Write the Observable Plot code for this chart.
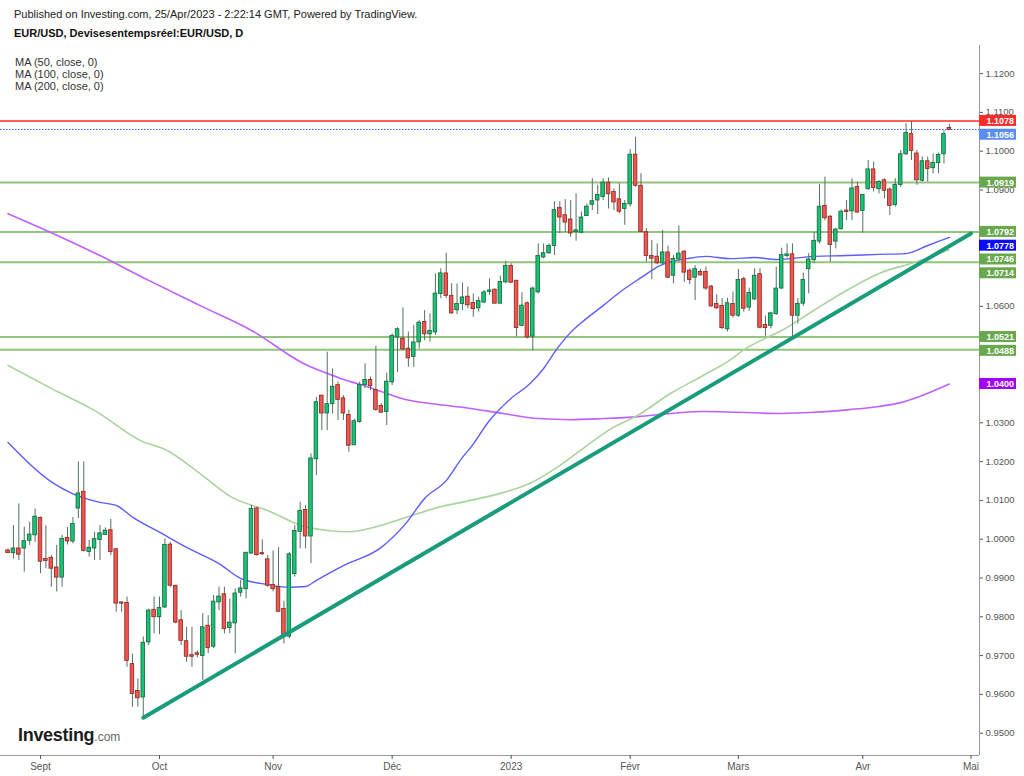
<!DOCTYPE html>
<html>
<head>
<meta charset="utf-8">
<script src="https://cdn.jsdelivr.net/npm/d3@7"></script>
<script src="https://cdn.jsdelivr.net/npm/@observablehq/plot@0.6"></script>
<style>
  body { margin: 0; background: #fff; font-family: "Liberation Sans", Arial, sans-serif; }
  #wrap { position: relative; width: 1024px; height: 776px; overflow: hidden; background: #fff; }
  #h1 { position: absolute; left: 14px; top: 8px; font-size: 11px; line-height: 13px; color: #222; white-space: nowrap; }
  #h2 { position: absolute; left: 14px; top: 27px; font-size: 11px; line-height: 13px; font-weight: bold; color: #111; white-space: nowrap; }
  #chart { position: absolute; left: 0; top: 45px; }
  #legend { position: absolute; left: 15px; top: 56px; font-size: 11px; line-height: 12px; color: #333; white-space: nowrap; }
  #logo { position: absolute; left: 18px; top: 726px; line-height: 18px; white-space: nowrap; }
  #logo .a { font-size: 18px; font-weight: bold; color: #1d1d1d; letter-spacing: -0.3px; }
  #logo .b { font-size: 12px; color: #666; }
</style>
</head>
<body>
<div id="wrap">
  <div id="chart"></div>
  <div id="h1">Published on Investing.com, 25/Apr/2023 - 2:22:14 GMT, Powered by TradingView.</div>
  <div id="h2">EUR/USD, Devisesentempsréel:EUR/USD, D</div>
  <div id="legend"></div>
  <div id="logo"><span class="a">Investing</span><span class="b">.com</span></div>
</div>
<script>
// ---------- DATA (daily bars; bar index 0 = 1 Sept 2022, first bar = 24 Aug 2022) ----------
const firstBar = -6;
const opens = [
  .9970,.9965,.9975,.9977,.9997,1.0011,
  1.0054,.9948,.9951,.9926,.9902,1.0002,.9995,1.0080,1.0121,.9968,
  .9977,.9999,1.0012,1.0022,.9973,.9836,.9835,.9677,.9608,.9593,
  .9735,.9817,.9800,.9825,.9985,.9879,.9790,.9736,.9700,.9705,
  .9700,.9776,.9724,.9838,.9857,.9772,.9784,.9863,.9872,.9964,
  1.0078,.9963,.9947,.9881,.9876,.9819,.9750,.9911,1.0020,1.0074,
  1.0008,1.0207,1.0369,1.0325,1.0349,1.0396,1.0362,1.0319,1.0243,1.0303,
  1.0398,1.0409,1.0383,1.0342,1.0329,1.0405,1.0521,1.0516,1.0490,1.0471,
  1.0508,1.0559,1.0529,1.0534,1.0633,1.0684,1.0626,1.0591,1.0607,1.0624,
  1.0608,1.0596,1.0611,1.0638,1.0642,1.0608,1.0663,1.0703,1.0665,1.0551,
  1.0607,1.0523,1.0637,1.0727,1.0738,1.0757,1.0853,1.0834,1.0823,1.0793,
  1.0791,1.0834,1.0863,1.0874,1.0883,1.0918,1.0894,1.0875,1.0852,1.0864,
  1.0990,1.0910,1.0790,1.0729,1.0727,1.0712,1.0738,1.0680,1.0722,1.0740,
  1.0691,1.0675,1.0688,1.0688,1.0650,1.0605,1.0600,1.0542,1.0605,1.0577,
  1.0669,1.0598,1.0619,1.0682,1.0551,1.0551,1.0581,1.0647,1.0731,1.0733,
  1.0577,1.0608,1.0697,1.0720,1.0768,1.0858,1.0830,1.0768,1.0800,1.0846,
  1.0846,1.0907,1.0847,1.0903,1.0952,1.0903,1.0924,1.0900,1.0862,1.0914,
  1.0993,1.1043,1.0993,1.0925,1.0973,1.0957,1.0970,1.0993,1.1059
];
const highs = [
  .9974,1.0035,1.0091,1.0031,1.0044,1.0078,
  1.0057,1.0035,.9958,.9984,1.0010,1.0030,1.0056,1.0199,1.0199,.9997,
  1.0018,1.0035,1.0029,1.0051,.9975,.9838,.9851,.9704,.9640,.9748,
  .9820,.9851,.9851,1.0001,.9992,.9881,.9816,.9773,.9773,.9712,
  .9808,.9803,.9855,.9876,.9876,.9846,.9872,.9894,.9966,1.0087,
  1.0082,.9998,.9958,.9970,.9978,.9840,.9966,1.0035,1.0095,1.0087,
  1.0220,1.0366,1.0370,1.0482,1.0439,1.0405,1.0370,1.0332,1.0310,1.0405,
  1.0452,1.0418,1.0497,1.0349,1.0428,1.0529,1.0545,1.0596,1.0534,1.0551,
  1.0564,1.0589,1.0581,1.0684,1.0697,1.0737,1.0658,1.0658,1.0660,1.0650,
  1.0632,1.0624,1.0641,1.0671,1.0645,1.0678,1.0716,1.0710,1.0667,1.0635,
  1.0611,1.0650,1.0761,1.0761,1.0761,1.0870,1.0870,1.0875,1.0873,1.0890,
  1.0843,1.0864,1.0929,1.0912,1.0929,1.0931,1.0903,1.0916,1.0873,1.1004,
  1.1036,1.0942,1.0800,1.0770,1.0761,1.0796,1.0755,1.0731,1.0807,1.0744,
  1.0697,1.0705,1.0695,1.0701,1.0654,1.0630,1.0620,1.0621,1.0637,1.0695,
  1.0675,1.0647,1.0697,1.0697,1.0575,1.0585,1.0701,1.0750,1.0761,1.0761,
  1.0620,1.0686,1.0736,1.0791,1.0914,1.0933,1.0834,1.0800,1.0849,1.0873,
  1.0929,1.0920,1.0888,1.0976,1.0972,1.0924,1.0929,1.0906,1.0929,1.1002,
  1.1071,1.1077,1.1002,1.0985,1.0985,1.0993,1.0995,1.1053,1.1069
];
const lows = [
  .9963,.9949,.9945,.9915,.9984,.9992,
  .9911,.9924,.9876,.9864,.9876,.9985,.9988,1.0053,.9967,.9954,
  .9945,.9945,1.0010,.9958,.9812,.9812,.9670,.9567,.9567,.9537,
  .9726,.9756,.9754,.9821,.9876,.9782,.9726,.9683,.9670,.9694,
  .9636,.9705,.9718,.9816,.9756,.9756,.9705,.9851,.9846,.9962,
  .9956,.9958,.9876,.9864,.9812,.9730,.9743,.9902,.9975,.9975,
  .9937,1.0164,1.0280,1.0280,1.0323,1.0306,1.0306,1.0224,1.0241,1.0299,
  1.0388,1.0383,1.0330,1.0325,1.0293,1.0396,1.0430,1.0486,1.0443,1.0443,
  1.0490,1.0512,1.0508,1.0525,1.0620,1.0620,1.0579,1.0579,1.0589,1.0594,
  1.0572,1.0585,1.0607,1.0628,1.0607,1.0607,1.0658,1.0660,1.0521,1.0547,
  1.0516,1.0486,1.0632,1.0723,1.0734,1.0731,1.0787,1.0791,1.0778,1.0768,
  1.0787,1.0832,1.0847,1.0837,1.0873,1.0851,1.0847,1.0839,1.0809,1.0856,
  1.0907,1.0791,1.0714,1.0669,1.0707,1.0707,1.0671,1.0658,1.0714,1.0662,
  1.0656,1.0615,1.0678,1.0641,1.0598,1.0592,1.0540,1.0534,1.0570,1.0572,
  1.0585,1.0587,1.0615,1.0542,1.0523,1.0542,1.0577,1.0644,1.0725,1.0516,
  1.0555,1.0600,1.0632,1.0710,1.0761,1.0821,1.0714,1.0748,1.0797,1.0821,
  1.0821,1.0839,1.0789,1.0899,1.0895,1.0890,1.0877,1.0834,1.0856,1.0907,
  1.0989,1.0976,1.0912,1.0920,1.0920,1.0942,1.0942,1.0967,1.1055
];
const closes = [
  .9965,.9975,.9961,.9994,1.0011,1.0057,
  .9943,.9945,.9925,.9902,1.0000,.9995,1.0038,1.0117,.9971,.9977,
  .9999,1.0014,1.0021,.9968,.9835,.9835,.9687,.9602,.9591,.9732,
  .9815,.9800,.9822,.9984,.9881,.9786,.9739,.9698,.9698,.9703,
  .9772,.9720,.9838,.9851,.9769,.9784,.9859,.9872,.9964,1.0077,
  .9960,.9962,.9881,.9872,.9814,.9750,.9960,1.0020,1.0072,1.0008,
  1.0207,1.0352,1.0325,1.0347,1.0392,1.0360,1.0325,1.0242,1.0303,1.0396,
  1.0409,1.0395,1.0334,1.0327,1.0405,1.0523,1.0540,1.0490,1.0467,1.0506,
  1.0557,1.0529,1.0536,1.0632,1.0684,1.0628,1.0583,1.0605,1.0622,1.0604,
  1.0594,1.0613,1.0635,1.0640,1.0608,1.0662,1.0703,1.0662,1.0545,1.0601,
  1.0521,1.0645,1.0729,1.0736,1.0755,1.0847,1.0830,1.0817,1.0789,1.0795,
  1.0828,1.0856,1.0870,1.0886,1.0918,1.0890,1.0869,1.0845,1.0863,1.0990,
  1.0912,1.0793,1.0731,1.0724,1.0712,1.0738,1.0675,1.0721,1.0735,1.0688,
  1.0669,1.0695,1.0681,1.0647,1.0601,1.0596,1.0545,1.0607,1.0577,1.0667,
  1.0595,1.0634,1.0678,1.0546,1.0545,1.0581,1.0645,1.0731,1.0733,1.0577,
  1.0605,1.0667,1.0720,1.0768,1.0856,1.0828,1.0759,1.0797,1.0843,1.0844,
  1.0903,1.0843,1.0886,1.0952,1.0906,1.0920,1.0899,1.0860,1.0912,1.0991,
  1.1046,1.1002,1.0926,1.0973,1.0955,1.0969,1.0989,1.1043,1.1056
];

// moving averages: [bar index, value]
const ma50 = [[-6,1.0249],[2.5,1.0143],[6,1.0117],[11,1.0095],[14,1.0087],[17,1.0057],[22,1.0018],[27,0.9979],[33,0.9937],[37,0.9899],[42,0.9883],[46,0.9876],[49,0.9878],[51,0.9894],[56,0.9932],[63,0.9979],[67.5,1.0040],[71,1.0105],[75,1.0151],[78,1.0211],[79.5,1.0236],[83,1.0306],[87,1.0363],[90.5,1.0401],[93,1.0440],[95.5,1.0491],[98,1.0533],[100.5,1.0564],[104,1.0602],[107.5,1.0641],[111,1.0674],[114.5,1.0705],[119.5,1.0723],[123,1.0729],[127.5,1.0723],[132,1.0726],[136,1.0721],[143,1.0729],[149,1.0731],[155,1.0734],[160,1.0736],[164,1.0757],[168,1.0778]];
const ma100 = [[-6,1.0448],[1.8,1.0390],[10.2,1.0330],[18.5,1.0254],[23.5,1.0228],[29.5,1.0169],[35.5,1.0107],[42,1.0074],[49,1.0032],[57,1.0019],[61.5,1.0030],[67.5,1.0056],[73.5,1.0082],[79.5,1.0100],[85.5,1.0120],[90.5,1.0144],[95.5,1.0185],[100.5,1.0236],[105.5,1.0285],[110.5,1.0320],[116.5,1.0376],[122.5,1.0422],[127.5,1.0462],[130,1.0488],[134.5,1.0521],[137,1.0538],[143,1.0590],[149,1.0641],[155,1.0685],[161.5,1.0713],[168,1.0746]];
const ma200 = [[-6,1.0839],[2,1.0790],[11,1.0731],[20,1.0667],[29.5,1.0602],[39,1.0538],[49,1.0450],[55,1.0417],[61.5,1.0388],[67.5,1.0360],[73.5,1.0347],[79.5,1.0337],[85.5,1.0324],[92,1.0311],[98,1.0308],[104,1.0311],[110.5,1.0316],[116.5,1.0324],[122.5,1.0329],[129,1.0327],[137,1.0324],[143,1.0327],[149.5,1.0334],[155,1.0342],[159,1.0352],[162.5,1.0368],[168,1.0400]];

// drawn trend line (from 28 Sept 2022 low)
const trendLine = [[19,0.9540],[172,1.0788]];

// horizontal levels
const greenLevels = [1.0919, 1.0792, 1.0714, 1.0521, 1.0488];
const redLevel = 1.1078;
const lastPrice = 1.1056;

// axis ticks (labels hidden under price tags are left out, as in the reference)
const yTicks = [0.95,0.96,0.97,0.98,0.99,1.00,1.01,1.02,1.03,1.06,1.09,1.10,1.11,1.12];
const monthTicks = [0, 22, 43, 65, 87, 109, 129, 152, 172];
const monthLabels = ["Sept","Oct","Nov","Déc","2023","Févr","Mars","Avr","Mai"];

// price tags on the right axis
const tagValues = [1.1078, 1.1056, 1.0919, 1.0792, 1.0778, 1.0746, 1.0714, 1.0521, 1.0488, 1.0400];
const tagColors = ["#ff2a2a", "#5b8def", "#6aa84f", "#6aa84f", "#0a0aff", "#6aa84f", "#6aa84f", "#6aa84f", "#6aa84f", "#a100ff"];
const legendLines = ["MA (50, close, 0)", "MA (100, close, 0)", "MA (200, close, 0)"];

// ---------- CHART ----------
const W = 1024, H = 731, MR = 45, MB = 21;
const X_MIN = -7.39, X_MAX = 173.57;
const Y_MIN = 0.94425, Y_MAX = 1.12724;

const candles = opens.map((o, k) => ({ i: firstBar + k, o, h: highs[k], l: lows[k], c: closes[k] }));

// stack tags so they do not overlap (as TradingView does)
const ys = d3.scaleLinear().domain([Y_MIN, Y_MAX]).range([H - MB, 0]);
let prev = -Infinity;
const tags = tagValues.map((v, k) => ({ v, color: tagColors[k] }))
  .sort((a, b) => b.v - a.v)
  .map(t => { const p = Math.max(ys(t.v), prev + 13.8); prev = p; return { ...t, pv: ys.invert(p), t: t.v.toFixed(4) }; });

const UP = "#19c375", DN = "#f0564f", UPS = "#13643c", DNS = "#8a2621", WICK = "#56705f";

const chart = Plot.plot({
  width: W, height: H,
  marginLeft: 0, marginRight: MR, marginTop: 0, marginBottom: MB,
  style: { fontFamily: "Liberation Sans, Arial, sans-serif", background: "transparent", overflow: "visible" },
  x: { type: "linear", domain: [X_MIN, X_MAX], axis: null },
  y: { type: "linear", domain: [Y_MIN, Y_MAX], axis: null },
  color: { type: "identity" },
  marks: [
    Plot.ruleY(greenLevels, { stroke: "#93c47d", strokeWidth: 2 }),
    Plot.ruleY([redLevel], { stroke: "#ff2d2d", strokeWidth: 1.6 }),
    Plot.ruleY([lastPrice], { stroke: "#2f63e8", strokeWidth: 1, strokeDasharray: "1.5,1.5" }),
    Plot.line(ma200, { x: d => d[0], y: d => d[1], stroke: "#c060ff", strokeWidth: 1.6, curve: "monotone-x" }),
    Plot.line(ma100, { x: d => d[0], y: d => d[1], stroke: "#a9d49b", strokeWidth: 1.6, curve: "monotone-x" }),
    Plot.line(ma50, { x: d => d[0], y: d => d[1], stroke: "#5c5cff", strokeWidth: 1.4, curve: "monotone-x" }),
    Plot.ruleX(candles, { x: "i", y1: "l", y2: "h", stroke: WICK, strokeWidth: 1 }),
    Plot.rect(candles, {
      x1: "i", x2: "i", y1: "o", y2: "c",
      insetLeft: -1.8, insetRight: -1.8, insetTop: -0.4, insetBottom: -0.4,
      fill: d => d.c >= d.o ? UP : DN,
      stroke: d => d.c >= d.o ? UPS : DNS,
      strokeWidth: 0.8
    }),
    Plot.line(trendLine, { x: d => d[0], y: d => d[1], stroke: "#189c7c", strokeWidth: 4 }),
    Plot.ruleY([Y_MIN], { stroke: "#9a9a9a", strokeWidth: 1 }),
    Plot.ruleX([X_MAX], { stroke: "#9a9a9a", strokeWidth: 1 }),
    Plot.axisY(yTicks, { anchor: "right", tickSize: 3, tickPadding: 3, tickFormat: d => d.toFixed(4), fontSize: 9.5, color: "#555", label: null }),
    Plot.axisX(monthTicks, { anchor: "bottom", tickSize: 4, tickPadding: 3, tickFormat: d => monthLabels[monthTicks.indexOf(d)], fontSize: 10, color: "#555", label: null }),
    Plot.rect(tags, { x1: () => X_MAX, x2: () => X_MAX, y1: "pv", y2: "pv", insetLeft: 0, insetRight: -37, insetTop: -5.5, insetBottom: -5.5, fill: "color" }),
    Plot.text(tags, { x: () => X_MAX, y: "pv", text: "t", dx: 7, textAnchor: "start", fill: "#ffffff", fontSize: 9, fontWeight: "bold" })
  ]
});
document.getElementById("chart").appendChild(chart);
document.getElementById("legend").innerHTML = legendLines.map(s => `<div>${s}</div>`).join("");
</script>
</body>
</html>
